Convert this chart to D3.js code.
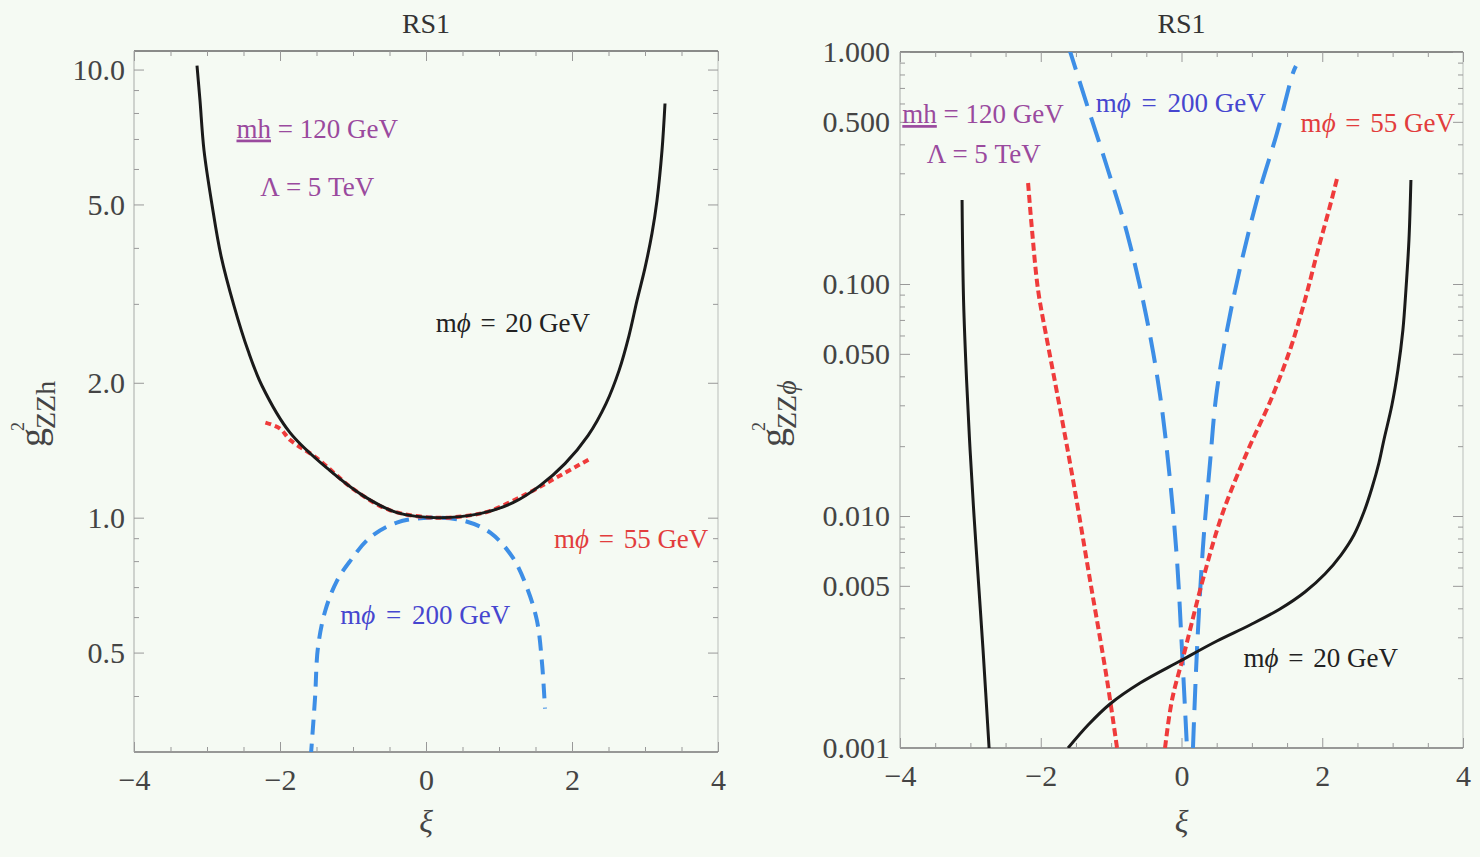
<!DOCTYPE html>
<html>
<head>
<meta charset="utf-8">
<script src="https://cdn.jsdelivr.net/npm/d3@7"></script>
<style>
  html, body { margin: 0; padding: 0; background: #f5faf3; }
  svg { display: block; }
  text { font-family: "Liberation Serif", "Times New Roman", serif; }
</style>
</head>
<body>
<svg id="chart" width="1480" height="857"></svg>
<script>
// ---- axis ticks ----
const xMajorTicks = [-4, -2, 0, 2, 4];
const xMajorLabels = ["\u22124", "\u22122", "0", "2", "4"];
const xMinorTicks = [-3.5, -3, -2.5, -1.5, -1, -0.5, 0.5, 1, 1.5, 2.5, 3, 3.5];
const xDomain = [-4, 4];

const leftYDomain = [0.3, 11];
const leftYMajor = [0.5, 1, 2, 5, 10];
const leftYLabels = ["0.5", "1.0", "2.0", "5.0", "10.0"];
const leftYMinor = [0.3, 0.4, 0.6, 0.7, 0.8, 0.9, 3, 4, 6, 7, 8, 9];

const rightYDomain = [0.001, 1];
const rightYMajor = [0.001, 0.005, 0.01, 0.05, 0.1, 0.5, 1];
const rightYLabels = ["0.001", "0.005", "0.010", "0.050", "0.100", "0.500", "1.000"];
const rightYMinor = [0.002, 0.003, 0.004, 0.006, 0.007, 0.008, 0.009,
                     0.02, 0.03, 0.04, 0.06, 0.07, 0.08, 0.09,
                     0.2, 0.3, 0.4, 0.6, 0.7, 0.8, 0.9];

// ---- g^2_ZZh versus xi ----
const zzhM20 = [[-3.137, 10.21], [-3.096, 8.53], [-3.041, 6.60], [-2.932, 5.00], [-2.808, 3.84],
  [-2.630, 2.97], [-2.438, 2.36], [-2.247, 1.97], [-1.863, 1.548], [-1.315, 1.273],
  [-0.863, 1.120], [-0.397, 1.026], [0.151, 1.0], [0.740, 1.021], [1.192, 1.080],
  [1.562, 1.179], [1.904, 1.320], [2.219, 1.524], [2.466, 1.797], [2.644, 2.129],
  [2.781, 2.549], [2.890, 3.05], [3.000, 3.61], [3.096, 4.31], [3.164, 5.10],
  [3.233, 6.60], [3.274, 8.40]];
const zzhM55 = [[-2.2, 1.63], [-2.0, 1.58], [-1.86, 1.49], [-1.5, 1.36], [-1.0, 1.16],
  [-0.5, 1.04], [0.1, 1.0], [0.6, 1.012], [0.88, 1.036], [1.38, 1.13], [1.79, 1.23], [2.27, 1.36]];
const zzhM200 = [[-1.58, 0.29], [-1.52, 0.396], [-1.48, 0.513], [-1.38, 0.62], [-1.22, 0.723],
  [-1.04, 0.80], [-0.77, 0.902], [-0.40, 0.975], [0.05, 1.0], [0.51, 0.985], [0.88, 0.926],
  [1.19, 0.814], [1.38, 0.70], [1.52, 0.589], [1.59, 0.472], [1.63, 0.375]];

// ---- g^2_ZZphi versus xi (each mass has two branches) ----
const zzpM20a = [[-3.118, 0.2301], [-3.097, 0.0853], [-3.054, 0.03858], [-3.004, 0.01925],
  [-2.947, 0.009901], [-2.884, 0.005143], [-2.820, 0.002646], [-2.734, 0.001]];
const zzpM20b = [[-1.612, 0.001], [-1.328, 0.001256], [-1.016, 0.001548], [-0.589, 0.001906],
  [-0.021, 0.002371], [0.504, 0.002891], [0.973, 0.003390], [1.399, 0.003973],
  [1.754, 0.004703], [2.038, 0.005623], [2.266, 0.006789], [2.450, 0.008282],
  [2.592, 0.01040], [2.706, 0.01320], [2.805, 0.01692], [2.876, 0.02127],
  [2.990, 0.03009], [3.075, 0.04258], [3.146, 0.06335], [3.189, 0.09421],
  [3.232, 0.1548], [3.260, 0.2807]];
const zzpM55a = [[-2.180, 0.2724], [-2.124, 0.1709], [-2.038, 0.09421], [-1.911, 0.05736],
  [-1.768, 0.03390], [-1.541, 0.01429], [-1.300, 0.005298], [-1.058, 0.001963], [-0.916, 0.001]];
const zzpM55b = [[-0.234, 0.001], [-0.135, 0.001610], [0.050, 0.002646], [0.291, 0.005143],
  [0.575, 0.01010], [0.945, 0.01925], [1.257, 0.03100], [1.541, 0.05194], [1.754, 0.08531],
  [1.939, 0.1402], [2.095, 0.2084], [2.223, 0.2949]];
const zzpM200a = [[-1.612, 1.072], [-1.342, 0.591], [-1.058, 0.3194], [-0.774, 0.1659],
  [-0.504, 0.07353], [-0.305, 0.03323], [-0.163, 0.01429], [-0.064, 0.006460],
  [0.007, 0.002646], [0.078, 0.001]];
const zzpM200b = [[0.163, 0.001], [0.220, 0.002646], [0.305, 0.007352], [0.405, 0.01692],
  [0.504, 0.03492], [0.732, 0.08531], [1.072, 0.2301], [1.357, 0.4476], [1.584, 0.8119],
  [1.626, 0.8704]];

// ---- drawing ----
const svg = d3.select("#chart");
const COL = { black: "#1a1a1a", red: "#ef3b3b", blue: "#3d8ee6",
              purpleTxt: "#9a4a9e", blueTxt: "#4646cf", redTxt: "#e23d3d", blackTxt: "#222" };

function drawPanel(cfg) {
  const x = d3.scaleLinear().domain(xDomain).range([cfg.left, cfg.right]);
  const y = d3.scaleLog().domain(cfg.yDomain).range([cfg.bottom, cfg.top]);
  const g = svg.append("g");

  const clipId = "clip-" + cfg.id;
  svg.append("clipPath").attr("id", clipId).append("rect")
    .attr("x", cfg.left).attr("y", cfg.top)
    .attr("width", cfg.right - cfg.left).attr("height", cfg.bottom - cfg.top);

  // frame
  g.append("line").attr("x1", cfg.left).attr("x2", cfg.left).attr("y1", cfg.top).attr("y2", cfg.bottom)
    .attr("stroke", "#b4b8b4").attr("stroke-width", 1.2);
  g.append("line").attr("x1", cfg.right).attr("x2", cfg.right).attr("y1", cfg.top).attr("y2", cfg.bottom)
    .attr("stroke", "#c4c8c4").attr("stroke-width", 1.2);
  g.append("line").attr("x1", cfg.left).attr("x2", cfg.right).attr("y1", cfg.top).attr("y2", cfg.top)
    .attr("stroke", "#666").attr("stroke-width", 1.6);
  g.append("line").attr("x1", cfg.left).attr("x2", cfg.right).attr("y1", cfg.bottom).attr("y2", cfg.bottom)
    .attr("stroke", "#777").attr("stroke-width", 1.6);

  const styleAxis = sel => {
    sel.select(".domain").remove();
    sel.selectAll(".tick line").attr("stroke", "#999").attr("stroke-width", 1);
    sel.selectAll(".tick text").attr("fill", "#444").style("font-size", cfg.tickFont + "px")
      .style("font-family", "'Liberation Serif', serif");
  };

  // bottom / top
  g.append("g").attr("transform", `translate(0,${cfg.bottom})`)
    .call(d3.axisBottom(x).tickValues(xMajorTicks).tickFormat((d, i) => xMajorLabels[i])
      .tickSizeInner(-10).tickSizeOuter(0).tickPadding(17)).call(styleAxis);
  g.append("g").attr("transform", `translate(0,${cfg.bottom})`)
    .call(d3.axisBottom(x).tickValues(xMinorTicks).tickFormat("").tickSizeInner(-5).tickSizeOuter(0))
    .call(styleAxis);
  g.append("g").attr("transform", `translate(0,${cfg.top})`)
    .call(d3.axisTop(x).tickValues(xMajorTicks).tickFormat("").tickSizeInner(-10).tickSizeOuter(0))
    .call(styleAxis);
  g.append("g").attr("transform", `translate(0,${cfg.top})`)
    .call(d3.axisTop(x).tickValues(xMinorTicks).tickFormat("").tickSizeInner(-5).tickSizeOuter(0))
    .call(styleAxis);

  // left / right
  g.append("g").attr("transform", `translate(${cfg.left},0)`)
    .call(d3.axisLeft(y).tickValues(cfg.yMajor).tickFormat((d, i) => cfg.yLabels[i])
      .tickSizeInner(-10).tickSizeOuter(0).tickPadding(cfg.yPad)).call(styleAxis);
  g.append("g").attr("transform", `translate(${cfg.left},0)`)
    .call(d3.axisLeft(y).tickValues(cfg.yMinor).tickFormat("").tickSizeInner(-5).tickSizeOuter(0))
    .call(styleAxis);
  g.append("g").attr("transform", `translate(${cfg.right},0)`)
    .call(d3.axisRight(y).tickValues(cfg.yMajor).tickFormat("").tickSizeInner(-10).tickSizeOuter(0))
    .call(styleAxis);
  g.append("g").attr("transform", `translate(${cfg.right},0)`)
    .call(d3.axisRight(y).tickValues(cfg.yMinor).tickFormat("").tickSizeInner(-5).tickSizeOuter(0))
    .call(styleAxis);

  // curves
  const line = d3.line().x(d => x(d[0])).y(d => y(d[1])).curve(d3.curveCatmullRom.alpha(0.5));
  const curves = g.append("g").attr("clip-path", `url(#${clipId})`);
  cfg.series.forEach(s => {
    curves.append("path").datum(s.data).attr("d", line)
      .attr("fill", "none").attr("stroke", s.color).attr("stroke-width", s.width)
      .attr("stroke-dasharray", s.dash || null).attr("stroke-linecap", "butt")
      .attr("stroke-linejoin", "round");
  });

  // title
  g.append("text").attr("x", (cfg.left + cfg.right) / 2).attr("y", 33)
    .attr("text-anchor", "middle").attr("fill", "#333").style("font-size", "28px").text("RS1");

  // x label
  g.append("text").attr("x", x(0)).attr("y", 832).attr("text-anchor", "middle")
    .attr("fill", "#444").style("font-size", "32px").style("font-style", "italic").text("\u03BE");

  // y label: g^2 with subscript, read bottom to top
  const yl = g.append("text").attr("transform", `translate(${cfg.ylabX},${cfg.ylabY}) rotate(-90)`)
    .attr("text-anchor", "start").attr("fill", "#444");
  yl.append("tspan").style("font-size", "38px").text("g");
  yl.append("tspan").style("font-size", "18px").attr("dx", -3).attr("dy", -21).text("2");
  const sub = yl.append("tspan").style("font-size", "28px").attr("dx", -7).attr("dy", 31);
  cfg.ylabSub.forEach(p => {
    sub.append("tspan").style("font-style", p.italic ? "italic" : "normal").text(p.t);
  });

  // annotations
  cfg.notes.forEach(n => {
    const t = g.append("text").attr("x", x(n.at[0])).attr("y", y(n.at[1]))
      .attr("text-anchor", "middle").attr("fill", n.color).style("font-size", cfg.noteFont + "px");
    n.parts.forEach(p => {
      const ts = t.append("tspan").text(p.t);
      if (p.italic) ts.style("font-style", "italic");
      if (p.underline) ts.style("text-decoration", "underline");
      if (p.gap) ts.attr("dx", p.gap);
    });
  });
}

const mhParts = [{ t: "mh", underline: true }, { t: " = 120 GeV" }];
const lamParts = [{ t: "\u039B = 5 TeV" }];
// m_phi labels: slightly wider gaps on both sides of "="
const mphi = (v, gap) => [{ t: "m" }, { t: "\u03D5", italic: true },
  { t: " =", gap: gap }, { t: " " + v + " GeV", gap: gap }];

drawPanel({
  id: "zzh", left: 134, right: 718, top: 51, bottom: 752,
  yDomain: leftYDomain, yMajor: leftYMajor, yLabels: leftYLabels, yMinor: leftYMinor,
  yPad: 9, tickFont: 30, noteFont: 27,
  ylabX: 45, ylabY: 447, ylabSub: [{ t: "ZZh" }],
  series: [
    { data: zzhM200, color: COL.blue, width: 4, dash: "15,9" },
    { data: zzhM55, color: COL.red, width: 4, dash: "6,4" },
    { data: zzhM20, color: COL.black, width: 3 }
  ],
  notes: [
    { at: [-1.49, 7.05], color: COL.purpleTxt, parts: mhParts },
    { at: [-1.49, 5.23], color: COL.purpleTxt, parts: lamParts },
    { at: [1.19, 2.60], color: COL.blackTxt, parts: mphi(20, 3) },
    { at: [2.81, 0.857], color: COL.redTxt, parts: mphi(55, 3) },
    { at: [-0.01, 0.580], color: COL.blueTxt, parts: mphi(200, 4) }
  ]
});

drawPanel({
  id: "zzp", left: 900, right: 1463, top: 52, bottom: 748,
  yDomain: rightYDomain, yMajor: rightYMajor, yLabels: rightYLabels, yMinor: rightYMinor,
  yPad: 10, tickFont: 30, noteFont: 27,
  ylabX: 786, ylabY: 447, ylabSub: [{ t: "ZZ" }, { t: "\u03D5", italic: true }],
  series: [
    { data: zzpM200a, color: COL.blue, width: 4, dash: "26,12" },
    { data: zzpM200b, color: COL.blue, width: 4, dash: "26,12" },
    { data: zzpM55a, color: COL.red, width: 4, dash: "8,4" },
    { data: zzpM55b, color: COL.red, width: 4, dash: "8,4" },
    { data: zzpM20a, color: COL.black, width: 3 },
    { data: zzpM20b, color: COL.black, width: 3 }
  ],
  notes: [
    { at: [-2.82, 0.494], color: COL.purpleTxt, parts: mhParts },
    { at: [-2.81, 0.333], color: COL.purpleTxt, parts: lamParts },
    { at: [-0.01, 0.551], color: COL.blueTxt, parts: mphi(200, 4) },
    { at: [2.79, 0.452], color: COL.redTxt, parts: mphi(55, 3) },
    { at: [1.98, 0.00223], color: COL.blackTxt, parts: mphi(20, 3) }
  ]
});
</script>
</body>
</html>
